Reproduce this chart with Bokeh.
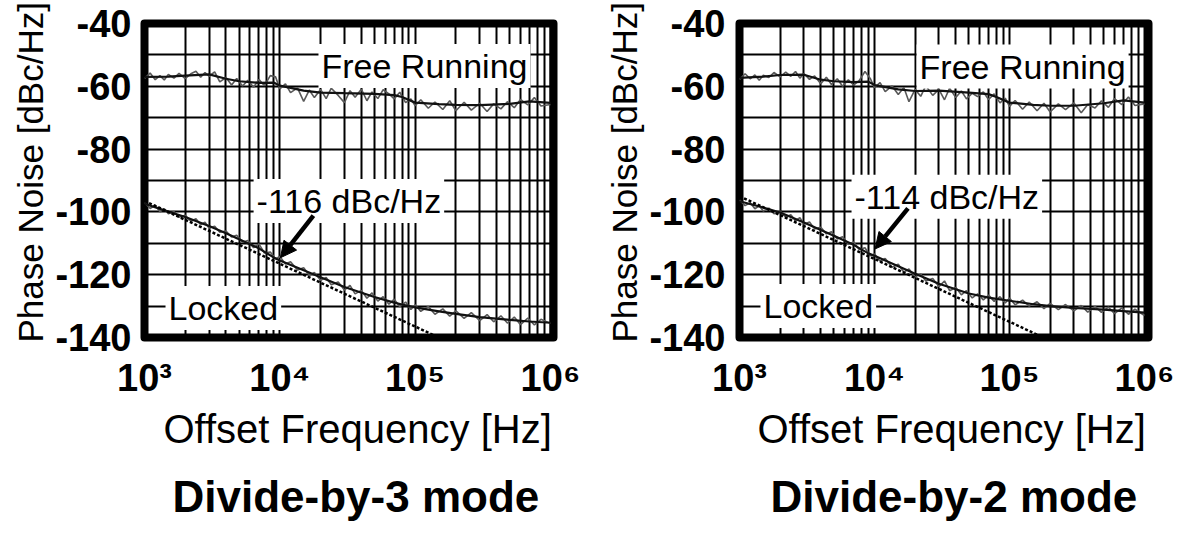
import math
from bokeh.plotting import figure
from bokeh.models import Label, Arrow, NormalHead, FixedTicker, Range1d, Title
from bokeh.layouts import row
from bokeh.embed import file_html
from bokeh.resources import INLINE

FONT = "Liberation Sans"

# ---------------- data ----------------
x_major = [1e3, 1e4, 1e5, 1e6]
x_tick_text = {1000: "10³", 10000: "10⁴", 100000: "10⁵", 1000000: "10⁶"}
x_minor = [m * d for d in [1e3, 1e4, 1e5] for m in range(2, 10)]
y_grid = [-140, -130, -120, -110, -100, -90, -80, -70, -60, -50, -40]
y_labels = [-140, -120, -100, -80, -60, -40]
y_tick_text = {v: "-%d" % abs(v) for v in y_labels}

# smoothed traces
f_s = [1e3, 1.5e3, 2e3, 3e3, 4e3, 5e3, 7e3, 9e3, 1e4, 1.5e4, 2e4, 3e4, 5e4,
       7e4, 8e4, 1e5, 1.5e5, 2e5, 3e5, 5e5, 7e5, 1e6]
free3_s = [-57.0, -56.9, -56.6, -56.2, -57.6, -58.4, -58.9, -58.8, -59.8, -61.4,
           -62.0, -62.2, -62.4, -62.8, -63.4, -65.2, -65.7, -65.9, -66.0, -65.6,
           -64.8, -65.3]
locked3_s = [-97.4, -99.9, -101.6, -104.5, -106.8, -108.7, -111.6, -114.5, -115.5,
             -118.6, -120.8, -123.9, -127.1, -128.9, -129.5, -130.4, -131.7, -132.5,
             -133.5, -134.4, -134.9, -135.3]
free2_s = [-57.3, -56.9, -56.4, -56.3, -57.9, -58.4, -58.7, -58.5, -59.6, -61.0,
           -61.5, -61.4, -62.0, -62.5, -63.4, -65.2, -65.9, -66.2, -66.2, -65.4,
           -64.5, -65.2]
locked2_s = [-96.6, -98.6, -100.2, -103.4, -105.8, -107.6, -110.5, -113.2, -114.0,
             -117.3, -119.7, -122.9, -126.0, -127.3, -127.7, -128.3, -129.4, -130.0,
             -130.6, -131.1, -131.6, -132.1]

# raw (noisy) traces
f_n = [1000, 1100, 1200, 1300, 1400, 1500, 1650, 1800, 2000, 2200,
       2400, 2600, 2800, 3000, 3300, 3600, 4000, 4400, 4800, 5300,
       5800, 6400, 7000, 7700, 8500, 9300, 10000, 11000, 12000, 13500,
       15000, 16500, 18000, 20000, 22000, 24000, 27000, 30000, 33000, 36000,
       40000, 44000, 48000, 53000, 58000, 64000, 70000, 77000, 85000, 93000,
       100000, 110000, 125000, 140000, 160000, 180000, 200000, 230000, 260000, 300000,
       340000, 380000, 430000, 480000, 540000, 600000, 680000, 760000, 850000, 1000000]
free3_n = [-57.5, -55.8, -57.9, -56.6, -58.0, -56.2, -57.4, -55.9, -57.6, -56.0,
           -55.2, -57.1, -55.6, -56.8, -55.4, -58.6, -57.2, -59.6, -57.5, -59.9,
           -58.1, -60.3, -57.8, -59.8, -56.6, -57.0, -60.8, -59.2, -62.0, -60.5,
           -64.8, -61.2, -63.6, -61.0, -63.9, -60.6, -62.9, -65.2, -61.4, -63.5,
           -60.9, -64.6, -61.8, -63.9, -61.1, -62.4, -64.0, -61.9, -65.2, -64.0,
           -66.2, -64.3, -67.0, -65.0, -67.4, -64.6, -67.8, -65.1, -67.6, -65.4,
           -68.0, -65.6, -67.2, -64.9, -66.8, -64.2, -65.9, -63.6, -66.3, -65.8]
locked3_n = [-97.0, -98.9, -97.9, -100.0, -99.0, -100.6, -99.9, -101.7, -101.1, -103.0,
             -102.2, -104.1, -103.3, -105.1, -104.6, -106.5, -106.1, -108.0, -107.4, -109.7,
             -109.1, -111.4, -110.2, -113.1, -112.8, -114.9, -114.2, -116.6, -115.9, -118.5,
             -117.8, -120.2, -119.3, -121.8, -120.9, -123.2, -122.3, -124.9, -123.4, -126.1,
             -125.0, -127.5, -125.8, -128.4, -127.0, -129.4, -127.8, -130.2, -128.7, -131.1,
             -129.6, -131.7, -130.1, -132.6, -130.9, -133.2, -131.5, -133.9, -132.1, -134.6,
             -132.7, -135.0, -133.1, -135.4, -133.5, -135.9, -133.8, -136.0, -134.2, -135.5]
free2_n = [-57.8, -56.0, -57.6, -56.4, -58.1, -56.5, -57.2, -55.6, -57.0, -55.5,
           -56.8, -55.3, -57.4, -55.9, -57.8, -56.7, -59.2, -57.1, -59.4, -57.6,
           -60.0, -57.9, -59.6, -58.2, -55.3, -57.5, -60.4, -58.8, -61.7, -59.9,
           -62.6, -60.4, -64.9, -61.0, -63.2, -59.8, -62.9, -61.0, -64.3, -60.6,
           -63.6, -61.5, -64.0, -62.2, -63.3, -61.8, -64.2, -62.4, -65.3, -63.8,
           -66.4, -64.5, -67.3, -65.0, -67.8, -65.4, -68.2, -65.6, -67.4, -65.3,
           -68.4, -65.8, -66.9, -64.6, -66.7, -63.9, -65.8, -63.4, -66.1, -65.6]
locked2_n = [-96.2, -98.0, -97.1, -99.0, -98.1, -99.7, -98.8, -100.6, -99.7, -101.7,
             -100.9, -102.8, -101.8, -103.9, -103.2, -105.4, -104.9, -107.0, -106.3, -108.6,
             -107.9, -110.3, -109.6, -112.0, -111.4, -114.0, -113.4, -115.7, -114.8, -117.6,
             -116.7, -119.2, -118.2, -120.7, -119.8, -122.0, -121.2, -123.8, -122.0, -125.1,
             -124.1, -126.4, -125.1, -127.4, -126.1, -128.0, -126.5, -128.5, -127.0, -129.0,
             -127.4, -129.6, -128.1, -130.0, -128.6, -130.8, -129.1, -131.1, -129.5, -131.5,
             -129.8, -131.9, -130.1, -132.0, -130.3, -132.4, -130.6, -132.6, -131.0, -133.0]

# -20 dB/dec guide lines
fit3_f = [1e3, 1.6e5]
fit3_db = [-96.5, -140.6]
fit2_f = [1e3, 1.8e5]
fit2_db = [-95.0, -140.1]

panels = [
    dict(title="Divide-by-3 mode", width=593, bl=144, br=40, xend=1.0524e6,
         free_n=free3_n, locked_n=locked3_n, free_s=free3_s, locked_s=locked3_s,
         fit_f=fit3_f, fit_db=fit3_db, note="-116 dBc/Hz",
         free_pos=(1.93e4, -53.5), note_pos=(6.4e3, -96.5), locked_pos=(1.43e3, -130.6),
         arrow=(1.77e4, -101.2, 1.01e4, -114.6), tick_dx=13, xt_dx=19, t_dx=28),
    dict(title="Divide-by-2 mode", width=594, bl=146, br=39, xend=1.0706e6,
         free_n=free2_n, locked_n=locked2_n, free_s=free2_s, locked_s=locked2_s,
         fit_f=fit2_f, fit_db=fit2_db, note="-114 dBc/Hz",
         free_pos=(2.05e4, -53.7), note_pos=(6.76e3, -95.2), locked_pos=(1.43e3, -130.0),
         arrow=(1.77e4, -98.9, 1.01e4, -111.8), tick_dx=14, xt_dx=18, t_dx=31),
]


def make_panel(c):
    p = figure(width=c["width"], height=536, x_axis_type="log",
               x_range=Range1d(1e3, c["xend"]), y_range=Range1d(-140, -40),
               output_backend="svg", toolbar_location=None,
               min_border_left=c["bl"], min_border_right=c["br"],
               min_border_top=23, min_border_bottom=196)
    p.title.visible = False
    p.background_fill_color = "white"
    p.border_fill_color = "white"
    p.outline_line_color = "black"
    p.outline_line_width = 8
    p.outline_line_join = "round"

    # axes: only the labels are shown
    p.xaxis.ticker = FixedTicker(ticks=x_major)
    p.xaxis.major_label_overrides = x_tick_text
    p.yaxis.ticker = FixedTicker(ticks=y_labels)
    p.yaxis.major_label_overrides = y_tick_text
    for ax in (p.xaxis, p.yaxis):
        ax.axis_line_color = None
        ax.major_tick_line_color = None
        ax.minor_tick_line_color = None
        ax.major_tick_in = 0
        ax.major_tick_out = 0
        ax.major_label_text_font = FONT
        ax.major_label_text_font_size = "38px"
        ax.major_label_text_font_style = "bold"
        ax.major_label_text_color = "black"
    p.yaxis.major_label_standoff = c["tick_dx"]
    p.xaxis.major_label_standoff = 19

    p.xgrid.ticker = FixedTicker(ticks=x_major, minor_ticks=x_minor)
    p.ygrid.ticker = FixedTicker(ticks=y_grid)
    for g in (p.xgrid, p.ygrid):
        g.grid_line_color = "black"
        g.grid_line_width = 2
        g.grid_line_alpha = 1.0
    p.xgrid.minor_grid_line_color = "black"
    p.xgrid.minor_grid_line_width = 2

    # titles outside the frame
    p.add_layout(Title(text="Phase Noise [dBc/Hz]", align="left", offset=-5,
                       text_font=FONT, text_font_size="35px", text_font_style="normal",
                       text_color="black", standoff=6), "left")
    p.add_layout(Title(text="Offset Frequency [Hz]", align="left", offset=c["xt_dx"],
                       text_font=FONT, text_font_size="40px", text_font_style="normal",
                       text_color="black", standoff=6), "below")
    p.add_layout(Title(text=c["title"], align="left", offset=c["t_dx"],
                       text_font=FONT, text_font_size="44px", text_font_style="bold",
                       text_color="black", standoff=32), "below")

    p.line(f_n, c["free_n"], line_color="#595959", line_width=1.6)
    p.line(f_n, c["locked_n"], line_color="#595959", line_width=1.6)
    p.line(f_s, c["free_s"], line_color="#111111", line_width=2.2)
    p.line(f_s, c["locked_s"], line_color="#111111", line_width=2.2)
    p.line(c["fit_f"], c["fit_db"], line_color="black", line_width=2.5, line_dash="3 2")

    # in-plot text boxes
    for txt, (x, y) in (("Free Running", c["free_pos"]),
                        (c["note"], c["note_pos"]),
                        ("Locked", c["locked_pos"])):
        p.add_layout(Label(x=x, y=y, text=txt, text_font=FONT, text_font_size="34px",
                           text_color="black", text_align="left", text_baseline="alphabetic",
                           background_fill_color="white", background_fill_alpha=1.0,
                           padding=3))

    xs, ys, xe, ye = c["arrow"]
    p.add_layout(Arrow(end=NormalHead(size=16, fill_color="black", line_color="black"),
                       x_start=xs, y_start=ys, x_end=xe, y_end=ye,
                       line_color="black", line_width=4.5))
    return p


layout = row(*[make_panel(c) for c in panels])
open("out.html", "w").write(file_html(layout, INLINE))
